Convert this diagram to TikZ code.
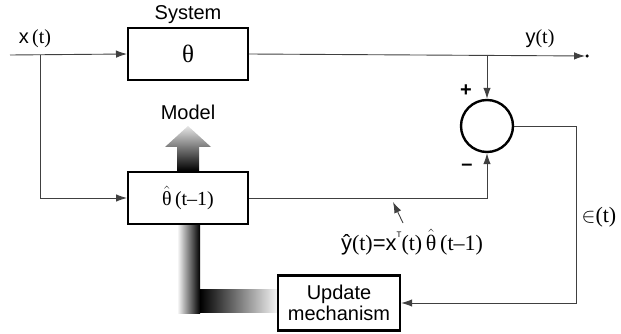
\documentclass[tikz,border=0pt]{standalone}
\usepackage{amsmath}
\usepackage{fontspec}
\setmainfont{Liberation Sans}
\newfontfamily\serif{Liberation Serif}
\usetikzlibrary{positioning, arrows.meta, calc}
\newcommand{\thetahat}{$\hat{\text{\serif θ}}$}

\begin{document}
\begin{tikzpicture}[x=1pt, y=-1pt, every node/.style={font=\fontsize{20}{21}\selectfont},
  blk/.style={draw, line width=2pt, minimum width=120pt, minimum height=52pt, inner sep=0pt},
  sig/.style={line width=0.9pt, black!75},
  arr/.style={sig, -{Latex[length=11pt, width=7.5pt]}}]
\useasboundingbox (0,0) rectangle (621,334);
% Blocks
\node[blk, font=\fontsize{25}{26}\selectfont] (sys) at (188,54) {\serif θ};
\node (systitle) at (188,15) {System};
\node[blk] (est) at (188,198) {\thetahat{\serif\,(t–1)}};
\node[draw, circle, line width=2.4pt, minimum size=52pt, inner sep=0pt] (sum) at (487,126) {};
\node[blk, line width=2.4pt, minimum width=122pt, minimum height=55pt, align=center] (upd) at (339,303) {Update\\mechanism};
\node[circle, fill, inner sep=0pt, minimum size=3.5pt] (ydot) at (587,56) {};
% Branch points
\coordinate (xin) at (10,55);
\coordinate (xsplit) at (40,55);
\coordinate (ytap) at (487,55);
\coordinate (efb) at (576,303);
% Signal lines
\draw[arr] (xin) -- (sys.west);
\draw[arr] (sys.east) -- (ydot);
\draw[arr] (ytap) -- (sum.north);
\draw[arr] (xsplit) |- (est.west);
\draw[arr] (est.east) -| (sum.south);
\draw[arr] (sum.east) -| (efb) -- (upd.east);
% Model arrow (shaded)
\shade[top color=gray!20, bottom color=black]
  ($(est.north)+(-11,0)$) -- ++(0,-24) -- ++(-12,0) -- ($(est.north)+(0,-45)$)
  -- ($(est.north)+(23,-24)$) -- ++(-12,0) -- ($(est.north)+(11,0)$) -- cycle;
\node (modeltxt) at (188,112) {Model};
% Update path (shaded)
\shade[left color=white, right color=black] ($(est.south)+(-11,0)$) rectangle ($(est.south)+(12,88)$);
\shade[left color=black, right color=gray!10] ($(est.south)+(12,64)$) rectangle ($(upd.west)+(0,9)$);
% Labels
\node (xlbl) at (35,39) {x\,{\serif (t)}};
\node (ylbl) at (540,39) {y{\serif (t)}};
\node (plus) at (466,91) {\textbf{+}};
\node (minus) at (467,167) {\textbf{–}};
\node[font=\fontsize{22}{23}\selectfont] (eps) at (599,217) {$\in${\serif (t)}};
\node[font=\fontsize{22}{23}\selectfont] (yhat) at (412,242) {ŷ{\serif (t)}=x\raisebox{1.1ex}{\fontsize{8}{8}\selectfont T}{\serif (t)\,}\thetahat{\serif\,(t–1)}};
\coordinate (ptrtail) at (403,223);
\coordinate (ptrhead) at (393,202);
\draw[arr] (ptrtail) -- (ptrhead);
\end{tikzpicture}
\end{document}
